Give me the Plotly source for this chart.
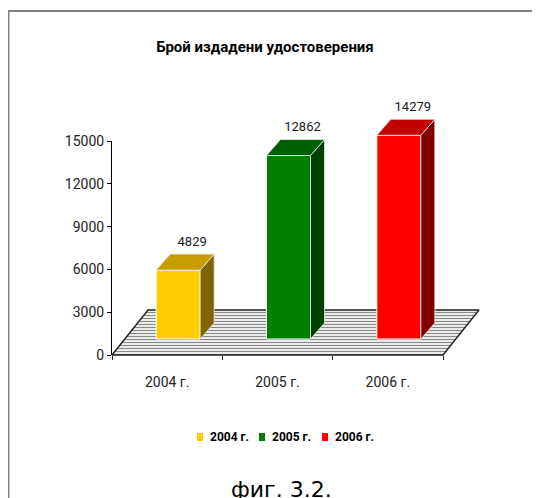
import plotly.graph_objects as go

# ---------------- data ----------------
categories = ["2004 г.", "2005 г.", "2006 г."]
values = [4829, 12862, 14279]
front_colors = ["#FFCC00", "#008000", "#FF0000"]
top_colors = ["#C89B00", "#006000", "#C40000"]
side_colors = ["#806600", "#004000", "#800000"]
y_ticks = [0, 3000, 6000, 9000, 12000, 15000]
title_text = "Брой издадени удостоверения"
caption_text = "фиг. 3.2."

# ---------------- geometry ----------------
OFF = 8                       # page body margin: figure starts at page (8, 8)
W, H = 532, 490


def px(x):                    # reference page x -> figure x
    return x - OFF


def py(y):                    # reference page y -> figure y
    return y - OFF


X0_PX, X1_PX = px(112), px(443)   # front edge of floor (category band)
Y0_PX, Y15_PX = py(355), py(141)  # value 0 and 15000
XU = (X1_PX - X0_PX) / 3.0
YU = (Y0_PX - Y15_PX) / 15000.0

FDX, FDY = 36 / XU, 45 / YU      # floor depth
BOX, BOY = 11 / XU, 16 / YU      # bar front face offset
BDX, BDY = 14 / XU, 16 / YU      # bar depth
BW = 44 / XU                     # bar width
LBL = 5 / YU                     # label gap

FONT = "Roboto, Liberation Sans Narrow, DejaVu Sans Condensed, sans-serif"

DL, DR, DB, DT = px(100), px(530), py(362), py(80)
x2_range = [-0.5 - (X0_PX - DL) / XU, -0.5 + (DR - X0_PX) / XU]
y2_range = [-(DB - Y0_PX) / YU, (Y0_PX - DT) / YU]

fig = go.Figure()

# anchor trace so the visible axes are drawn
fig.add_trace(go.Scatter(x=[None], y=[None], xaxis="x", yaxis="y",
                         showlegend=False, hoverinfo="skip"))

# floor (base drawing subplot)
fig.add_trace(go.Scatter(
    x=[-0.5, 2.5, 2.5 + FDX, -0.5 + FDX, -0.5],
    y=[0, 0, FDY, FDY, 0],
    mode="lines", fill="toself", fillcolor="white",
    fillpattern=dict(shape="-", fgcolor="#8a8a8a", bgcolor="white", size=3, solidity=0.45),
    line=dict(color="#202020", width=1.4),
    xaxis="x2", yaxis="y2", showlegend=False, hoverinfo="skip"))

# bars (overlay subplot drawn above the floor)
for i, (cat, v) in enumerate(zip(categories, values)):
    xc = i + BOX
    x0, x1 = xc - BW / 2, xc + BW / 2
    top = BOY + v
    fig.add_trace(go.Bar(
        x=[xc], y=[v], base=[BOY], width=[BW], name=cat,
        marker=dict(color=front_colors[i], line=dict(color="white", width=1)),
        xaxis="x3", yaxis="y3", showlegend=False, hoverinfo="skip"))
    fig.add_trace(go.Scatter(
        x=[x1, x1, x1 + BDX, x1 + BDX, x1],
        y=[BOY, top, top + BDY, BOY + BDY, BOY],
        mode="lines", fill="toself", fillcolor=side_colors[i],
        line=dict(color="#e8e8e8", width=0.8),
        xaxis="x3", yaxis="y3", showlegend=False, hoverinfo="skip"))
    fig.add_trace(go.Scatter(
        x=[x0, x1, x1 + BDX, x0 + BDX, x0],
        y=[top, top, top + BDY, top + BDY, top],
        mode="lines", fill="toself", fillcolor=top_colors[i],
        line=dict(color="#e8e8e8", width=0.8),
        xaxis="x3", yaxis="y3", showlegend=False, hoverinfo="skip"))
    fig.add_trace(go.Scatter(
        x=[xc + BDX], y=[top + BDY + LBL], text=[str(v)],
        mode="text", textposition="top center",
        textfont=dict(family=FONT, size=13, color="#1a1a1a"),
        cliponaxis=False, xaxis="x3", yaxis="y3", showlegend=False, hoverinfo="skip"))

# legend: small colour keys and bold labels
LEG_SQ = [197, 259, 322]      # reference x of the keys
LEG_TX = [208, 270, 333]      # reference x of the labels
LEG_Y = 437
shapes = [
    dict(type="line", xref="paper", yref="paper", x0=0, x1=1,
         y0=1 - py(11) / H, y1=1 - py(11) / H, line=dict(color="#808080", width=2)),
    dict(type="line", xref="paper", yref="paper", x0=0.75 / W, x1=0.75 / W,
         y0=1 - py(11) / H, y1=0, line=dict(color="#808080", width=1.5)),
]
annotations = []
for i, cat in enumerate(categories):
    shapes.append(dict(type="rect", xref="paper", yref="paper",
                       x0=px(LEG_SQ[i]) / W, x1=px(LEG_SQ[i] + 6) / W,
                       y0=1 - py(LEG_Y + 4) / H, y1=1 - py(LEG_Y - 4) / H,
                       fillcolor=front_colors[i], line=dict(width=0)))
    annotations.append(dict(text=cat, xref="paper", yref="paper",
                            x=px(LEG_TX[i]) / W, y=1 - py(LEG_Y) / H,
                            xanchor="left", yanchor="middle", showarrow=False,
                            font=dict(family=FONT, size=12, color="black", weight=700)))

annotations.append(dict(text=caption_text, xref="paper", yref="paper", x=px(281) / W,
                        y=1 - py(489) / H, xanchor="center", yanchor="middle",
                        showarrow=False,
                        font=dict(family="DejaVu Sans, Verdana, sans-serif", size=22,
                                  color="black")))

fig.update_layout(
    template="none",
    width=W, height=H,
    margin=dict(l=0, r=0, t=0, b=0),
    paper_bgcolor="white", plot_bgcolor="rgba(0,0,0,0)",
    barmode="overlay",
    showlegend=False,
    shapes=shapes,
    annotations=annotations,
    title=dict(text=title_text, x=px(265) / W, xanchor="center",
               y=1 - py(47) / H, yanchor="middle",
               font=dict(family=FONT, size=15, color="black", weight=700)),
    xaxis=dict(domain=[X0_PX / W, X1_PX / W], range=[-0.5, 2.5], anchor="y",
               tickvals=[0, 1, 2], ticktext=categories, ticks="", showline=False,
               showgrid=False, zeroline=False, automargin=False, ticklabelstandoff=17,
               tickfont=dict(family=FONT, size=14, color="#222"),
               minor=dict(tickvals=[-0.5, 0.5, 1.5, 2.5], ticks="outside", ticklen=4,
                          tickcolor="#222", tickwidth=1, showgrid=False)),
    yaxis=dict(domain=[1 - Y0_PX / H, 1 - Y15_PX / H], range=[0, 15000], anchor="x",
               tickvals=y_ticks, ticktext=[str(t) for t in y_ticks],
               ticks="outside", ticklen=4, tickcolor="black",
               showline=True, linecolor="black", linewidth=1, showgrid=False,
               zeroline=False, automargin=False,
               tickfont=dict(family=FONT, size=14, color="#222")),
    xaxis2=dict(domain=[DL / W, DR / W], range=x2_range, anchor="y2", visible=False,
                automargin=False),
    yaxis2=dict(domain=[1 - DB / H, 1 - DT / H], range=y2_range, anchor="x2", visible=False,
                automargin=False),
    xaxis3=dict(overlaying="x2", range=x2_range, anchor="y3", visible=False,
                automargin=False),
    yaxis3=dict(overlaying="y2", range=y2_range, anchor="x3", visible=False,
                automargin=False),
)

fig.write_html("out.html")
